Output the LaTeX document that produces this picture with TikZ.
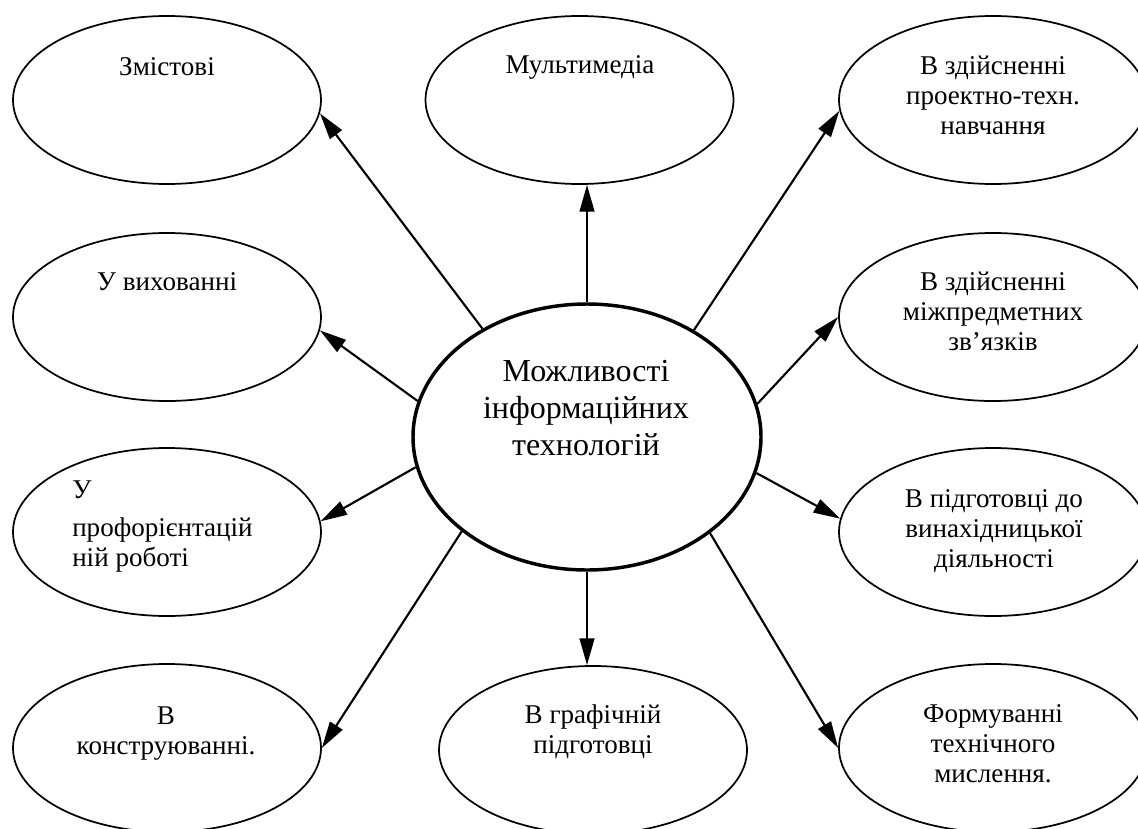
\documentclass[tikz,border=0pt]{standalone}
\usepackage{fontspec}
\setmainfont{Liberation Serif}
\usetikzlibrary{shapes.geometric,arrows.meta}
\tikzset{
 ell/.style={ellipse, draw, line width=1.3pt, minimum width=231pt, minimum height=126pt, inner sep=0pt},
 cen/.style={ellipse, draw, line width=2.6pt, minimum width=261pt, minimum height=199.5pt, inner sep=0pt},
 txt/.style={anchor=base, inner sep=0pt, font=\fontsize{20.3}{22.5}\selectfont},
 ctxt/.style={anchor=base, inner sep=0pt, font=\fontsize{24}{27.75}\selectfont},
 arr/.style={-{Triangle[length=20pt,width=11pt]}, line width=1.6pt},
}
\begin{document}
\begin{tikzpicture}[x=0.75pt,y=-0.75pt]
\useasboundingbox (0,0) rectangle (1138,828);
% central
\node[cen] (c) at (587,437) {};
\node[ctxt] (tc) at (586,381) {\begin{tabular}[t]{@{}c@{}}Можливості\\інформаційних\\технологій\end{tabular}};
% outer ellipses
\node[ell] (a1) at (167,100) {};
\node[ell] (a2) at (579.5,100) {};
\node[ell] (a3) at (993,100) {};
\node[ell] (a4) at (167,317) {};
\node[ell] (a5) at (993,317) {};
\node[ell] (a6) at (167,532) {};
\node[ell] (a7) at (993,532) {};
\node[ell] (a8) at (167,748) {};
\node[ell] (a9) at (593,750) {};
\node[ell] (a10) at (993,748) {};
% texts
\node[txt] (t1) at (167,75) {Змістові};
\node[txt] (t2) at (580,73) {Мультимедіа};
\node[txt] (t3) at (993,74) {\begin{tabular}[t]{@{}c@{}}В здійсненні\\проектно-техн.\\навчання\end{tabular}};
\node[txt] (t4) at (167,290) {У вихованні};
\node[txt] (t5) at (993,290) {\begin{tabular}[t]{@{}c@{}}В здійсненні\\міжпредметних\\зв’язків\end{tabular}};
\node[txt,anchor=base west] (t6) at (72,498) {\begin{tabular}[t]{@{}l@{}}У\\[6pt]профорієнтацій\\ній роботі\end{tabular}};
\node[txt] (t7) at (994,507) {\begin{tabular}[t]{@{}c@{}}В підготовці до\\винахідницької\\діяльності\end{tabular}};
\node[txt] (t8) at (166,724) {\begin{tabular}[t]{@{}c@{}}В\\конструюванні.\end{tabular}};
\node[txt] (t9) at (593,723) {\begin{tabular}[t]{@{}c@{}}В графічній\\підготовці\end{tabular}};
\node[txt] (t10) at (993,722) {\begin{tabular}[t]{@{}c@{}}Формуванні\\технічного\\мислення.\end{tabular}};
% arrows
\draw[arr] (c.134.2) -- (a1.355.2);
\draw[arr] (c.90) -- (c.90 |- a2.south);
\draw[arr] (c.45.8) -- (a3.184.8);
\draw[arr] (c.168.6) -- (a4.355.2);
\draw[arr] (c.11.4) -- (a5.180);
\draw[arr] (c.190.7) -- (a6.4.5);
\draw[arr] (c.348.6) -- (a7.175.5);
\draw[arr] (c.217.3) -- (a8.0);
\draw[arr] (c.270) -- (c.270 |- a9.north);
\draw[arr] (c.322.5) -- (a10.180);
\end{tikzpicture}
\end{document}
